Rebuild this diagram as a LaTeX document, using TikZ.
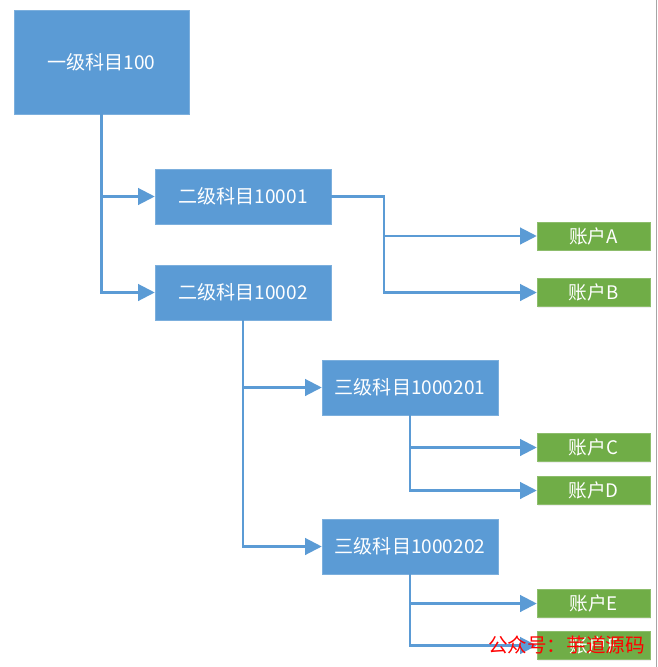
\documentclass[tikz,border=0pt]{standalone}
\usepackage{fontspec}
\setmainfont{Noto Sans CJK SC}
\usetikzlibrary{arrows.meta,shadows}
\usepackage{xcolor}
\definecolor{kemublue}{HTML}{5B9BD5}
\definecolor{acctgreen}{HTML}{70AD47}
\tikzset{
    kemu/.style={
        draw=kemublue!80!white,
        fill=kemublue,
        text=white,
        minimum width=132pt,
        minimum height=41.25pt,
        inner sep=0pt,
        font=\fontsize{14.3}{16}\selectfont,
        drop shadow={shadow xshift=0.8pt,shadow yshift=-0.8pt,opacity=0.12}
    },
    acct/.style={
        draw=acctgreen!80!white,
        fill=acctgreen,
        text=white,
        minimum width=84.75pt,
        minimum height=21pt,
        inner sep=0pt,
        font=\fontsize{14}{16}\selectfont,
        drop shadow={shadow xshift=0.8pt,shadow yshift=-0.8pt,opacity=0.12}
    },
    link/.style={
        draw=kemublue,
        line width=1.6pt,
        -{Triangle[length=12.5pt,width=12.5pt]}
    }
}
\newcommand{\kemu}[4] {
    \node[kemu] (#1) at (#2, #3) {#4};
}
\newcommand{\acct}[3] {
    \node[acct] (#1) at (593.5, #2) {账户#3};
}

\begin{document}
\begin{tikzpicture}[x=0.75pt,y=-0.75pt]
        \useasboundingbox[fill=white] (0,0) rectangle (657,667);
        \fill[gray!70] (655.5,0) rectangle (657,667);
        % top level
        \node[kemu,minimum width=131.25pt,minimum height=78pt] (l1) at (101.5, 62) {一级科目100};
        % second level
        \kemu{l2a}{243}{196.5}{二级科目10001}
        \kemu{l2b}{243}{292.5}{二级科目10002}
        % third level
        \kemu{l3a}{410}{387.5}{三级科目1000201}
        \kemu{l3b}{410}{546.5}{三级科目1000202}
        % accounts
        \acct{accA}{236}{A}
        \acct{accB}{292.5}{B}
        \acct{accC}{447.5}{C}
        \acct{accD}{490.5}{D}
        \acct{accE}{603.5}{E}
        \acct{accF}{645.5}{F}
        % links
        \coordinate (j2a) at (384, 196.5);
        \foreach \to in {l2a,l2b}
            \draw[link] (l1.south) |- (\to.west);
        \foreach \to in {l3a,l3b}
            \draw[link] (l2b.south) |- (\to.west);
        \foreach \to in {accA,accB}
            \draw[link] (l2a.east) -- (j2a) |- (\to.west);
        \foreach \to in {accC,accD}
            \draw[link] (l3a.south) |- (\to.west);
        \foreach \to in {accE,accF}
            \draw[link] (l3b.south) |- (\to.west);
        % watermark
        \node[text=red,font=\fontsize{14.7}{15}\selectfont,inner sep=0pt] (mark) at (566.5, 645) {公众号：芋道源码};
    \end{tikzpicture}
\end{document}
